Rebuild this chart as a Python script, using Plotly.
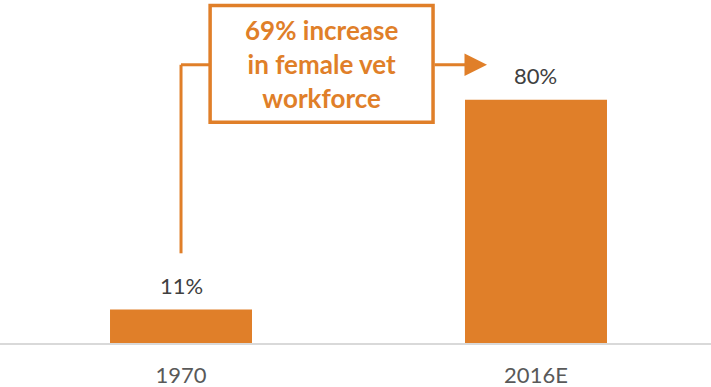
import plotly.graph_objects as go

# Share of women in the veterinary workforce
years = ["1970", "2016E"]
female_share = [11, 80]
value_labels = ["11%", "80%"]
callout_lines = ["69% increase", "in female vet", "workforce"]

ORANGE = "#E07F29"
GREY_TEXT = "#595959"
FONT = "Lato"

fig = go.Figure()
fig.add_trace(go.Bar(
    x=list(range(len(years))),
    y=female_share,
    marker=dict(color=ORANGE, line=dict(width=0)),
    width=0.4,
    hoverinfo="skip",
))

# value labels above each bar
for i, (v, lbl) in enumerate(zip(female_share, value_labels)):
    fig.add_annotation(
        x=i, y=v, text=lbl, showarrow=False,
        xref="x", yref="y", yanchor="bottom", yshift=9,
        font=dict(family=FONT, size=22, color="#404040"),
    )

# callout connector: up from the 1970 bar, across into the box, out to 2016E
link_y = 91.5
box_x0, box_x1 = 0.082, 0.71
box_y0, box_y1 = 72.6, 111
fig.add_shape(type="line", xref="x", yref="y",
              x0=0, x1=0, y0=female_share[0] + 18.5, y1=link_y,
              line=dict(color=ORANGE, width=3))
fig.add_shape(type="line", xref="x", yref="y",
              x0=0, x1=box_x0, y0=link_y, y1=link_y,
              line=dict(color=ORANGE, width=3))
fig.add_shape(type="rect", xref="x", yref="y",
              x0=box_x0, x1=box_x1, y0=box_y0, y1=box_y1,
              line=dict(color=ORANGE, width=3.5), fillcolor="white")
fig.add_annotation(
    x=0.862, y=link_y, ax=box_x1, ay=link_y,
    xref="x", yref="y", axref="x", ayref="y",
    text="", showarrow=True, arrowhead=2, arrowsize=1.5,
    arrowwidth=3, arrowcolor=ORANGE,
)
fig.add_annotation(
    x=(box_x0 + box_x1) / 2, y=(box_y0 + box_y1) / 2,
    xref="x", yref="y", showarrow=False,
    text="<br>".join(callout_lines),
    font=dict(family=FONT, size=26, color=ORANGE, weight="bold"),
    align="center",
)

fig.update_layout(
    width=711, height=387,
    margin=dict(l=0, r=0, t=0, b=44),
    paper_bgcolor="white", plot_bgcolor="white",
    showlegend=False,
    bargap=0.6,
    xaxis=dict(
        range=[-0.5099, 1.4930],
        tickmode="array", tickvals=list(range(len(years))), ticktext=years,
        tickfont=dict(family=FONT, size=22, color=GREY_TEXT),
        showgrid=False, zeroline=False,
        showline=True, linecolor="#D9D9D9", linewidth=2,
        ticks="", ticklabelstandoff=12,
    ),
    yaxis=dict(range=[0, 112.8], visible=False),
)

fig.write_html("out.html")
